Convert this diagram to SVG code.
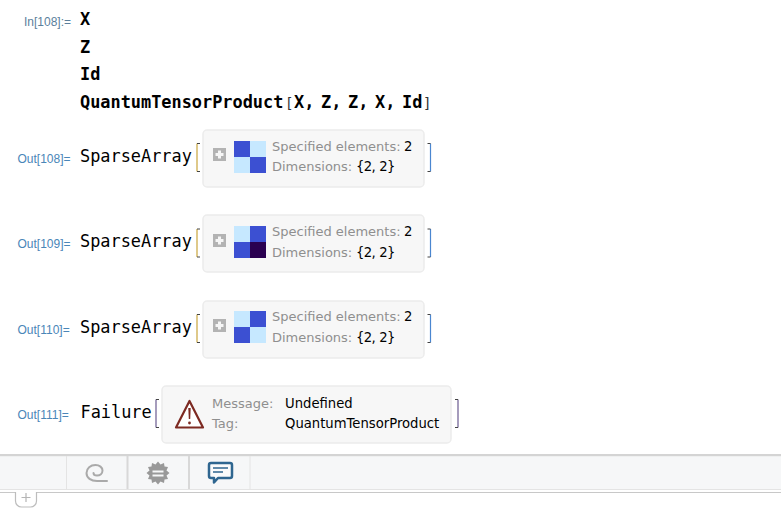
<svg xmlns="http://www.w3.org/2000/svg" width="781" height="520" viewBox="0 0 781 520">
<style>
.lab{font:12px "Liberation Sans",Arial,sans-serif;fill:#4a86b8}
.in{fill:#5b7f9c}
.code{font:bold 16.9px "DejaVu Sans Mono",monospace;fill:#000}
.out{font:16.9px "DejaVu Sans Mono",monospace;fill:#000}
.sb{font-size:14px;font-weight:normal;fill:#333}
.args{word-spacing:-3.500px}
.panel{fill:#f7f7f7;stroke:#ececec;stroke-width:1.500}
.k{font:13px "DejaVu Sans",sans-serif;fill:#8f8f8f}
.v{font:13.200px "DejaVu Sans",sans-serif;fill:#000}
.dim{letter-spacing:-.7px;word-spacing:1px}
.br{fill:none;stroke-width:1.200}
.tk{fill:none;stroke:#444;stroke-width:1}
.lt{fill:#c6e8ff}.md{fill:#3c50d2}.dk{fill:#2a0050}
.plus{fill:#b3b3b3}
.pw{fill:#f6f6f6}
</style>
<defs>
<g id="plusbox"><rect class="plus" width="13" height="13"/><path class="pw" d="M5 2.500h3V5h2.500v3H8v2.500H5V8H2.500V5H5z"/></g>
<g id="lbr"><path class="tk" d="M197 143.500h3M197 171.500h3"/></g>
<g id="rbr"><path class="tk" d="M427.500 143.500h3M427.500 171.500h3"/></g>
</defs>
<rect width="781" height="520" fill="#fff"/>
<g id="input">
<text class="lab in" x="24" y="26">In[108]:=</text>
<text class="code" x="80" y="25">X</text>
<text class="code" x="80" y="53">Z</text>
<text class="code" x="80" y="80">Id</text>
<text class="code" x="80" y="108">QuantumTensorProduct<tspan class="sb" x="285">[</tspan><tspan class="args" x="294">X, Z, Z, X, Id</tspan><tspan class="sb" x="423">]</tspan></text>
</g>
<g id="out108">
<text class="lab" x="17.500" y="163">Out[108]=</text>
<text class="out" x="80" y="162">SparseArray</text>
<path class="br" stroke="#c9a53c" d="M197 143.500v28"/><use href="#lbr"/>
<rect class="panel" x="203" y="130" width="221" height="57" rx="4"/>
<use href="#plusbox" x="213" y="148"/>
<rect class="md" x="234" y="141" width="16" height="16"/><rect class="lt" x="250" y="141" width="16" height="16"/>
<rect class="lt" x="234" y="157" width="16" height="16"/><rect class="md" x="250" y="157" width="16" height="16"/>
<text class="k" x="272" y="151">Specified elements:</text><text class="v" x="404" y="151">2</text>
<text class="k" x="272" y="171">Dimensions:</text><text class="v dim" x="356" y="171">{2, 2}</text>
<path class="br" stroke="#4a86d0" d="M430.500 143.500v28"/><use href="#rbr"/>
</g>
<g id="out109">
<text class="lab" x="17.500" y="248">Out[109]=</text>
<text class="out" x="80" y="247">SparseArray</text>
<path class="br" stroke="#c9a53c" d="M197 229v28"/><use href="#lbr" y="85.500"/>
<rect class="panel" x="203" y="215" width="221" height="57" rx="4"/>
<use href="#plusbox" x="213" y="234"/>
<rect class="lt" x="234" y="226" width="16" height="16"/><rect class="md" x="250" y="226" width="16" height="16"/>
<rect class="md" x="234" y="242" width="16" height="16"/><rect class="dk" x="250" y="242" width="16" height="16"/>
<text class="k" x="272" y="236">Specified elements:</text><text class="v" x="404" y="236">2</text>
<text class="k" x="272" y="257">Dimensions:</text><text class="v dim" x="356" y="257">{2, 2}</text>
<path class="br" stroke="#4a86d0" d="M430.500 229v28"/><use href="#rbr" y="85.500"/>
</g>
<g id="out110">
<text class="lab" x="17.500" y="334">Out[110]=</text>
<text class="out" x="80" y="333">SparseArray</text>
<path class="br" stroke="#c9a53c" d="M197 314.500v28"/><use href="#lbr" y="171"/>
<rect class="panel" x="203" y="301" width="221" height="57" rx="4"/>
<use href="#plusbox" x="213" y="319"/>
<rect class="lt" x="234" y="311" width="16" height="16"/><rect class="md" x="250" y="311" width="16" height="16"/>
<rect class="md" x="234" y="327" width="16" height="16"/><rect class="lt" x="250" y="327" width="16" height="16"/>
<text class="k" x="272" y="321">Specified elements:</text><text class="v" x="404" y="321">2</text>
<text class="k" x="272" y="342">Dimensions:</text><text class="v dim" x="356" y="342">{2, 2}</text>
<path class="br" stroke="#4a86d0" d="M430.500 314.500v28"/><use href="#rbr" y="171"/>
</g>
<g id="out111">
<text class="lab" x="17.500" y="419">Out[111]=</text>
<text class="out" x="80.500" y="418">Failure</text>
<path class="br" stroke="#6a5a90" d="M156 399.500v28"/><path class="tk" d="M156 399.500h3M156 427.500h3"/>
<rect class="panel" x="162" y="386" width="289" height="57" rx="4"/>
<path d="M189.500 401 L203 427.500H176Z" fill="#fff" stroke="#7d2a22" stroke-width="2.200" stroke-linejoin="round"/>
<path d="M188.300 408h2.400l-.5 11h-1.400z" fill="#7d2a22"/><circle cx="189.500" cy="423" r="1.400" fill="#7d2a22"/>
<text class="k" x="212" y="408">Message:</text><text class="v" x="285" y="408">Undefined</text>
<text class="k" x="212" y="428">Tag:</text><text class="v" x="285" y="428">QuantumTensorProduct</text>
<path class="br" stroke="#6a5a90" d="M458 399.500v28"/><path class="tk" d="M455 399.500h3M455 427.500h3"/>
</g>
<g id="toolbar">
<rect y="454" width="781" height="2.500" fill="#d4d4d4"/>
<rect y="456.500" width="781" height="32.500" fill="#f6f7f8"/>
<path d="M0 489.500H781" stroke="#e4e4e4" fill="none"/>
<path d="M66.500 456v33M250 456v33" stroke="#e4e4e4" fill="none"/>
<path d="M127.500 456v33M189 456v33" stroke="#d8d8d8" stroke-width="2" fill="none"/>
<path d="M107 481H97c-6 0-10.500-3-10.500-8 0-4.800 4-8 9-8 4 0 7 2.500 7 5.500 0 3-2.500 5-5.500 5-2 0-3.500-1-3.500-2.500" fill="none" stroke="#aaa" stroke-width="2" stroke-linecap="round"/>
<path d="M158 462.500l2.500 3 3.500-1.500.5 3.500 3.500.5-1.500 3.500 3 2.500-3 2.500 1.500 3.500-3.500.5-.5 3.500-3.500-1.500-2.500 3-2.500-3-3.500 1.500-.5-3.500-3.500-.5 1.500-3.500-3-2.500 3-2.500-1.500-3.500 3.500-.5.500-3.500 3.500 1.500z" fill="#999" transform="translate(0 -1)"/>
<path d="M152.500 471.500h11M152.500 475.500h11" stroke="#f6f7f8" stroke-width="1.800"/>
<path d="M211 463h19a2 2 0 0 1 2 2v11a2 2 0 0 1-2 2H218l-4 4.500V478h-3a2 2 0 0 1-2-2V465a2 2 0 0 1 2-2z" fill="#fbfbfb" stroke="#2f6690" stroke-width="2.500" stroke-linejoin="round"/>
<path d="M213 468h15M213 472h10" stroke="#2f6690" stroke-width="1.400" fill="none"/>
</g>
<g id="newcell">
<path d="M0 492.500H15.500M36.500 492.500H781" stroke="#c8c8c8" stroke-width="1.200" fill="none"/>
<path d="M15.500 492v9a6 6 0 0 0 6 6h9a6 6 0 0 0 6-6v-9" fill="#fff" stroke="#bdbdbd" stroke-width="1.200"/>
<path d="M26 493v9M21.500 497.500h9" stroke="#b5b5b5" stroke-width="1.200" fill="none"/>
</g>
</svg>
